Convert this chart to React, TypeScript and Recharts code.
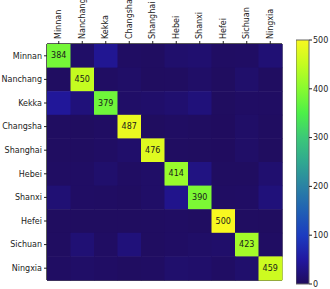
import React from 'react';
import { ScatterChart, Scatter, XAxis, YAxis, ReferenceArea, BarChart, Bar } from 'recharts';

const labels = ['Minnan', 'Nanchang', 'Kekka', 'Changsha', 'Shanghai', 'Hebei', 'Shanxi', 'Hefei', 'Sichuan', 'Ningxia'];

// rows = true label, columns = predicted label
const rowMinnan = [384, 8, 40, 5, 4, 12, 14, 5, 6, 18];
const rowNanchang = [4, 450, 5, 8, 3, 4, 8, 3, 11, 4];
const rowKekka = [45, 22, 379, 8, 10, 14, 22, 3, 6, 5];
const rowChangsha = [4, 3, 5, 487, 3, 5, 4, 2, 8, 4];
const rowShanghai = [4, 4, 6, 10, 476, 4, 3, 2, 8, 3];
const rowHebei = [5, 6, 12, 5, 8, 414, 28, 4, 4, 14];
const rowShanxi = [18, 6, 5, 4, 8, 35, 390, 5, 6, 22];
const rowHefei = [3, 3, 3, 3, 4, 5, 4, 500, 4, 3];
const rowSichuan = [4, 18, 5, 22, 4, 6, 8, 10, 423, 5];
const rowNingxia = [5, 8, 6, 4, 5, 12, 10, 6, 12, 459];

const matrix = [rowMinnan, rowNanchang, rowKekka, rowChangsha, rowShanghai, rowHebei, rowShanxi, rowHefei, rowSichuan, rowNingxia];

const colorbarTicks = [0, 100, 200, 300, 400, 500];
const vmax = 500;

const stops = ['#200c5c', '#2118a0', '#1c3cc0', '#2060b4', '#2a82a4', '#30a890', '#3cc878', '#4cf048', '#88fa30', '#c4fc20', '#f8f820'];

const hex = (h: string) => [1, 3, 5].map((i) => parseInt(h.slice(i, i + 2), 16));

const colorFor = (v: number) => {
    const t = Math.max(0, Math.min(1, v / vmax)) * (stops.length - 1);
    const i = Math.min(Math.floor(t), stops.length - 2);
    const f = t - i;
    const a = hex(stops[i]);
    const b = hex(stops[i + 1]);
    const c = a.map((x, k) => Math.round(x + (b[k] - x) * f));
    return `rgb(${c[0]},${c[1]},${c[2]})`;
};

const cells = matrix.flatMap((row, r) => row.map((v, c) => ({ x: c + 0.5, y: r + 0.5, v, diag: r === c })));

const W = 330;
const H = 289;
const axisLeft = 47;
const axisTop = 44;
const axisBottom = 9;
const rightGap = 48;
const cellW = (W - axisLeft - rightGap) / 10;
const cellH = (H - axisTop - axisBottom) / 10;
const centers = labels.map((_, i) => i + 0.5);
const font = 'DejaVu Sans, sans-serif';

const CellShape = (props: any) => {
    const { cx, cy, payload } = props;
    return (
        <g>
            <rect x={cx - cellW / 2} y={cy - cellH / 2} width={cellW + 0.5} height={cellH + 0.5} fill={colorFor(payload.v)} />
            {payload.diag && (
                <text x={cx} y={cy} textAnchor="middle" dominantBaseline="central" fontSize={8} fill="#1a1a1a" fontFamily={font}>
                    {payload.v}
                </text>
            )}
        </g>
    );
};

const TopTick = (props: any) => {
    const { x, y, payload } = props;
    return (
        <text x={x} y={y} transform={`rotate(-90, ${x}, ${y})`} textAnchor="start" dominantBaseline="central" fontSize={8} fill="#222" fontFamily={font}>
            {labels[Math.floor(payload.value)]}
        </text>
    );
};

export default function App() {
    return (
        <div style={{ position: 'absolute', left: 0, top: 0, width: W, height: H, background: '#fff' }}>
            <ScatterChart width={W} height={H} margin={{ top: 0, right: rightGap, bottom: 0, left: 0 }}>
                <XAxis
                    type="number"
                    dataKey="x"
                    xAxisId="top"
                    orientation="top"
                    domain={[0, 10]}
                    ticks={centers}
                    tick={<TopTick />}
                    tickSize={3}
                    tickMargin={2}
                    stroke="#222"
                    height={axisTop}
                    interval={0}
                />
                <XAxis
                    type="number"
                    dataKey="x"
                    xAxisId="bottom"
                    orientation="bottom"
                    domain={[0, 10]}
                    ticks={centers}
                    tickFormatter={() => ''}
                    tickSize={4}
                    stroke="#222"
                    height={axisBottom}
                    interval={0}
                />
                <YAxis
                    type="number"
                    dataKey="y"
                    domain={[0, 10]}
                    reversed
                    ticks={centers}
                    tickFormatter={(v: number) => labels[Math.floor(v)]}
                    tick={{ fontSize: 8, fill: '#222', fontFamily: font }}
                    tickSize={3}
                    tickMargin={2}
                    stroke="#222"
                    width={axisLeft}
                    interval={0}
                />
                <Scatter data={cells} xAxisId="top" shape={<CellShape />} isAnimationActive={false} />
                <ReferenceArea xAxisId="top" x1={0} x2={10} y1={0} y2={10} fill="none" stroke="#222" strokeWidth={1} />
            </ScatterChart>
            <div style={{ position: 'absolute', left: 296, top: 34 }}>
                <BarChart width={34} height={256} data={[{ name: 'c', v: vmax }]} margin={{ top: 6, right: 0, bottom: 6, left: 0 }} barCategoryGap={0}>
                    <defs>
                        <linearGradient id="cbar" x1="0" y1="1" x2="0" y2="0">
                            {stops.map((s, i) => (
                                <stop key={i} offset={`${(i / (stops.length - 1)) * 100}%`} stopColor={s} />
                            ))}
                        </linearGradient>
                    </defs>
                    <XAxis dataKey="name" hide />
                    <YAxis
                        orientation="right"
                        domain={[0, vmax]}
                        ticks={colorbarTicks}
                        tick={{ fontSize: 8, fill: '#222', fontFamily: font }}
                        tickSize={3}
                        tickMargin={1}
                        axisLine={false}
                        stroke="#222"
                        width={21}
                        interval={0}
                    />
                    <Bar dataKey="v" fill="url(#cbar)" stroke="#666" strokeWidth={1} isAnimationActive={false} />
                </BarChart>
            </div>
        </div>
    );
}
